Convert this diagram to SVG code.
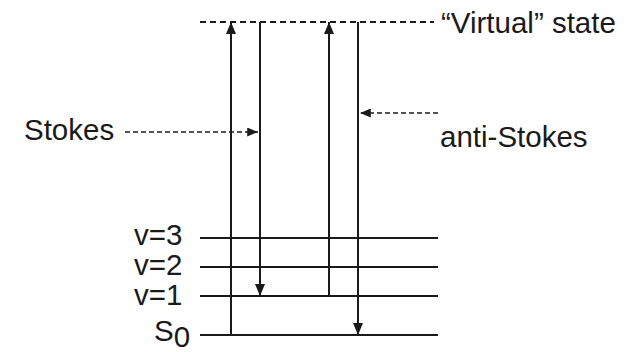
<svg xmlns="http://www.w3.org/2000/svg" width="637" height="352" viewBox="0 0 637 352">
<defs>
<style>
.lvl{stroke:#1a1a1a;stroke-width:2;fill:none}
.tr{stroke:#1a1a1a;stroke-width:2;fill:none}
.dash{stroke:#1a1a1a;stroke-width:2;fill:none;stroke-dasharray:6 4}
.sd{stroke:#1a1a1a;stroke-width:1.6;fill:none;stroke-dasharray:5 3}
text{font-family:"Liberation Sans",Arial,sans-serif;font-size:29.5px;fill:#1a1a1a}
</style>
<marker id="ah" viewBox="0 0 12 10" refX="12" refY="5" markerWidth="12" markerHeight="10" markerUnits="userSpaceOnUse" orient="auto">
<path d="M0,0 L12,5 L0,10 Z" fill="#1a1a1a"/>
</marker>
<marker id="ahs" viewBox="0 0 12 10" refX="12" refY="5" markerWidth="11" markerHeight="9" markerUnits="userSpaceOnUse" orient="auto">
<path d="M0,0 L12,5 L0,10 Z" fill="#1a1a1a"/>
</marker>
</defs>
<g id="virtual-state">
<line class="dash" x1="200" y1="22" x2="434" y2="22"/>
<text x="441" y="33">“Virtual” state</text>
</g>
<g id="v3">
<line class="lvl" x1="200" y1="238" x2="438" y2="238"/>
<text x="134" y="245">v=3</text>
</g>
<g id="v2">
<line class="lvl" x1="200" y1="267" x2="438" y2="267"/>
<text x="134" y="275">v=2</text>
</g>
<g id="v1">
<line class="lvl" x1="200" y1="296" x2="438" y2="296"/>
<text x="134" y="305">v=1</text>
</g>
<g id="s0">
<line class="lvl" x1="200" y1="335" x2="438" y2="335"/>
<text x="154" y="341">S<tspan dy="6">0</tspan></text>
</g>
<g id="stokes-label">
<text x="24" y="140">Stokes</text>
</g>
<g id="anti-stokes-label">
<text x="440" y="147">anti-Stokes</text>
</g>
<g id="connectors">
<line class="tr" x1="231" y1="335" x2="231" y2="22" marker-end="url(#ah)"/>
<line class="tr" x1="260" y1="22" x2="260" y2="296" marker-end="url(#ah)"/>
<line class="tr" x1="329" y1="296" x2="329" y2="22" marker-end="url(#ah)"/>
<line class="tr" x1="358" y1="22" x2="358" y2="335" marker-end="url(#ah)"/>
<line class="sd" x1="125" y1="132" x2="258" y2="132" marker-end="url(#ahs)"/>
<line class="sd" x1="438" y1="113" x2="360" y2="113" marker-end="url(#ahs)"/>
</g>
</svg>
